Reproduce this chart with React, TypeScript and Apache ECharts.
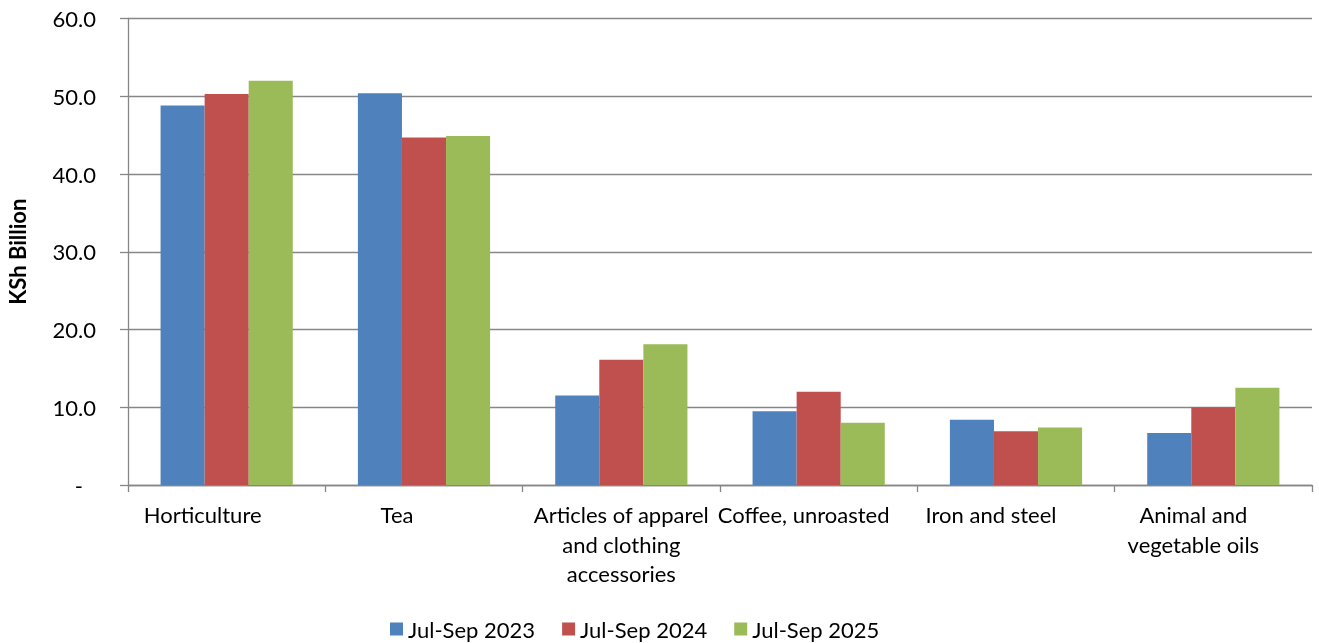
import React, { useEffect, useRef } from "react";
import * as echarts from "echarts";

const categories = [
  "Horticulture",
  "Tea",
  "Articles of apparel\nand clothing\naccessories",
  "Coffee, unroasted",
  "Iron and steel",
  "Animal and\nvegetable oils",
];
const seriesNames = ["Jul-Sep 2023", "Jul-Sep 2024", "Jul-Sep 2025"];
const values2023 = [48.8, 50.4, 11.5, 9.5, 8.4, 6.7];
const values2024 = [50.3, 44.7, 16.1, 12.0, 6.9, 10.0];
const values2025 = [52.0, 44.9, 18.1, 8.0, 7.4, 12.5];
const yTicks = [0, 10, 20, 30, 40, 50, 60];

const colors = ["#4F81BD", "#C0504D", "#9BBB59"];
const labelShift = [48, 54, 0, 30, 50, 40];
const FONT = "Lato, 'Open Sans', sans-serif";
const FS = 22;

export default function App() {
  const ref = useRef<HTMLDivElement>(null);
  useEffect(() => {
    if (!ref.current) return;
    const chart = echarts.init(ref.current, undefined, { renderer: "svg" });
    const rich: Record<string, any> = {};
    labelShift.forEach((p, i) => {
      rich["s" + i] = {
        padding: [0, p, 0, 0],
        fontSize: FS,
        lineHeight: 29.5,
        color: "#000",
        fontFamily: FONT,
      };
    });
    const data = [values2023, values2024, values2025];
    chart.setOption({
      animation: false,
      textStyle: { fontFamily: FONT },
      grid: {
        left: 128,
        right: 7,
        top: 18.5,
        bottom: 158,
        containLabel: false,
        outerBoundsMode: "none",
      },
      legend: {
        data: seriesNames,
        left: 390,
        top: 618,
        padding: 0,
        icon: "rect",
        itemWidth: 13,
        itemHeight: 13,
        itemGap: 27,
        textStyle: { fontSize: FS, color: "#000", fontFamily: FONT },
      },
      xAxis: {
        type: "category",
        data: categories,
        axisLine: { lineStyle: { color: "#868686", width: 1.3 } },
        axisTick: { show: true, length: 7, lineStyle: { color: "#868686", width: 1.3 } },
        axisLabel: {
          interval: 0,
          margin: 15,
          formatter: (v: string) => {
            const i = categories.indexOf(v);
            return v
              .split("\n")
              .map((l) => `{s${i}|${l}}`)
              .join("\n");
          },
          rich,
        },
      },
      yAxis: {
        type: "value",
        min: yTicks[0],
        max: yTicks[yTicks.length - 1],
        interval: 10,
        name: "KSh Billion",
        nameLocation: "middle",
        nameGap: 100,
        nameTextStyle: { fontSize: 22, fontWeight: "bold", color: "#000", fontFamily: FONT },
        axisLine: { show: true, lineStyle: { color: "#868686", width: 1.3 } },
        axisTick: { show: true, length: 8, lineStyle: { color: "#868686", width: 1.3 } },
        splitLine: { lineStyle: { color: "#868686", width: 1.3 } },
        axisLabel: {
          margin: 32,
          fontSize: FS,
          color: "#000",
          fontFamily: FONT,
          formatter: (v: number) => (v === 0 ? "{d|-}" : v.toFixed(1)),
          rich: { d: { padding: [0, 13, 0, 0], fontSize: FS, color: "#000", fontFamily: FONT } },
        },
      },
      series: seriesNames.map((name, k) => ({
        name,
        type: "bar",
        data: data[k],
        barGap: "0%",
        barCategoryGap: "33%",
        itemStyle: { color: colors[k] },
      })),
    });
    return () => chart.dispose();
  }, []);
  return (
    <div
      ref={ref}
      style={{ position: "fixed", left: 0, top: 0, width: 1319, height: 643 }}
    />
  );
}
